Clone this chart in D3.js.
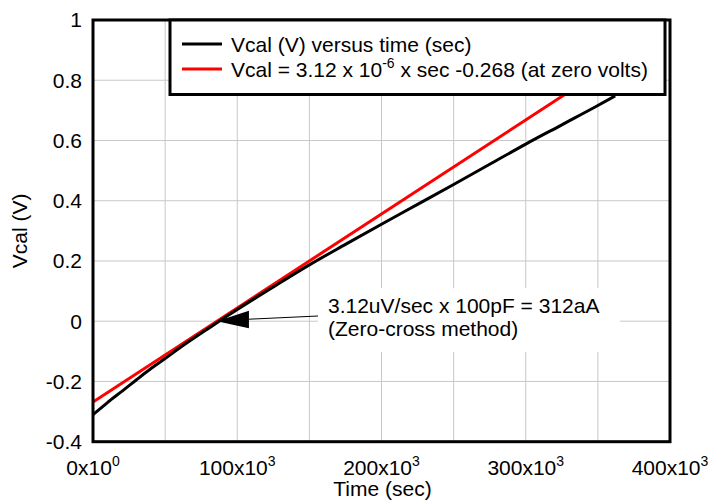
<!DOCTYPE html>
<html>
<head>
<meta charset="utf-8">
<script src="https://cdn.jsdelivr.net/npm/d3@7/dist/d3.min.js"></script>
<style>
  html, body { margin: 0; padding: 0; background: #fff; }
  svg { display: block; font-family: "Liberation Sans", Arial, sans-serif; }
</style>
</head>
<body>
<svg id="chart" width="710" height="502"></svg>
<script>
// ---- data ----
const timeSec = [0, 5000, 10000, 20000, 30000, 40000, 50000, 60000, 70000, 80000, 90000, 100000, 125000, 150000, 175000, 200000, 225000, 250000, 275000, 300000, 325000, 350000, 362000];
const vcal    = [-0.31, -0.29, -0.27, -0.233, -0.195, -0.158, -0.124, -0.089, -0.056, -0.024, 0.008, 0.039, 0.114, 0.187, 0.255, 0.322, 0.388, 0.454, 0.521, 0.588, 0.652, 0.716, 0.748];
const fitSlope = 3.12e-6;
const fitOffset = -0.268;
const fitTimes = [0, 360000];
const xTickValues = [0, 100000, 200000, 300000, 400000];
const xTickMantissa = ["0x10", "100x10", "200x10", "300x10", "400x10"];
const xTickExponent = ["0", "3", "3", "3", "3"];
const xGridValues = [50000, 100000, 150000, 200000, 250000, 300000, 350000];
const yTickValues = [-0.4, -0.2, 0, 0.2, 0.4, 0.6, 0.8, 1];
const yTickLabels = ["-0.4", "-0.2", "0", "0.2", "0.4", "0.6", "0.8", "1"];
const yGridValues = [-0.2, 0, 0.2, 0.4, 0.6, 0.8];
const legendLabels = ["Vcal (V) versus time (sec)", "Vcal = 3.12 x 10", "-6", " x sec -0.268 (at zero volts)"];
const annotationLines = ["3.12uV/sec x 100pF = 312aA", "(Zero-cross method)"];

// ---- layout ----
const L = 93, R = 670, T = 20, B = 441.7;
const FS = 21;
const svg = d3.select("#chart");
const x = d3.scaleLinear().domain([0, 400000]).range([L, R]);
const y = d3.scaleLinear().domain([-0.4, 1]).range([B, T]);

svg.append("defs").append("clipPath").attr("id", "plotclip")
  .append("rect").attr("x", L).attr("y", T).attr("width", R - L).attr("height", B - T);

// grid
const grid = svg.append("g");
grid.selectAll("line.v").data(xGridValues).join("line")
  .attr("x1", d => x(d)).attr("x2", d => x(d)).attr("y1", T).attr("y2", B)
  .attr("stroke", "#c8c8c8").attr("stroke-width", 1);
grid.selectAll("line.h").data(yGridValues).join("line")
  .attr("x1", L).attr("x2", R).attr("y1", d => y(d)).attr("y2", d => y(d))
  .attr("stroke", "#c8c8c8").attr("stroke-width", 1);

// annotation background box (hides grid)
const tipX = x(-fitOffset / fitSlope), tipY = y(0);
svg.append("rect").attr("x", 318).attr("y", 288).attr("width", 302).attr("height", 64).attr("fill", "#fff");

// curves
const curves = svg.append("g").attr("clip-path", "url(#plotclip)");
const line = d3.line().x(d => x(d[0])).y(d => y(d[1]));
curves.append("path").datum(fitTimes.map(t => [t, fitSlope * t + fitOffset]))
  .attr("d", line).attr("fill", "none").attr("stroke", "#ff0000").attr("stroke-width", 3);
curves.append("path").datum(timeSec.map((t, i) => [t, vcal[i]]))
  .attr("d", d3.line().curve(d3.curveMonotoneX).x(d => x(d[0])).y(d => y(d[1])))
  .attr("fill", "none").attr("stroke", "#000").attr("stroke-width", 3);

// arrow
svg.append("line").attr("x1", 318).attr("y1", 316).attr("x2", tipX + 32).attr("y2", tipY - 2)
  .attr("stroke", "#000").attr("stroke-width", 1);
svg.append("path")
  .attr("d", `M${tipX},${tipY} L${tipX + 32},${tipY - 10.5} L${tipX + 32},${tipY + 7} Z`)
  .attr("fill", "#000");

// annotation text
const ann = svg.append("text").attr("font-size", FS).attr("fill", "#000");
ann.append("tspan").attr("x", 328).attr("y", 313).text(annotationLines[0]);
ann.append("tspan").attr("x", 328).attr("y", 336).text(annotationLines[1]);

// plot frame
svg.append("rect").attr("x", L).attr("y", T).attr("width", R - L).attr("height", B - T)
  .attr("fill", "none").attr("stroke", "#000").attr("stroke-width", 3);

// legend
const lg = svg.append("g");
lg.append("rect").attr("x", 170).attr("y", T).attr("width", 495).attr("height", 74.5)
  .attr("fill", "#fff").attr("stroke", "#000").attr("stroke-width", 3);
lg.append("line").attr("x1", 182).attr("x2", 222).attr("y1", 44).attr("y2", 44)
  .attr("stroke", "#000").attr("stroke-width", 3);
lg.append("line").attr("x1", 182).attr("x2", 222).attr("y1", 69).attr("y2", 69)
  .attr("stroke", "#ff0000").attr("stroke-width", 3);
lg.append("text").attr("x", 231).attr("y", 51.5).attr("font-size", FS).text(legendLabels[0]);
const l2 = lg.append("text").attr("x", 231).attr("y", 76.5).attr("font-size", FS);
l2.append("tspan").text(legendLabels[1]);
l2.append("tspan").attr("font-size", 14).attr("dy", -9).text(legendLabels[2]);
l2.append("tspan").attr("dy", 9).text(legendLabels[3]);

// x tick labels
const xt = svg.append("g");
xTickValues.forEach((v, i) => {
  const t = xt.append("text").attr("x", x(v)).attr("y", 475).attr("font-size", FS).attr("text-anchor", "middle");
  t.append("tspan").text(xTickMantissa[i]);
  t.append("tspan").attr("font-size", 14).attr("dy", -9).text(xTickExponent[i]);
});

// y tick labels
svg.append("g").selectAll("text").data(yTickValues).join("text")
  .attr("x", 82).attr("y", d => y(d)).attr("dy", "0.35em")
  .attr("font-size", FS).attr("text-anchor", "end")
  .text((d, i) => yTickLabels[i]);

// axis titles
svg.append("text").attr("x", (L + R) / 2 + 1).attr("y", 496).attr("font-size", FS)
  .attr("text-anchor", "middle").text("Time (sec)");
svg.append("text").attr("transform", `translate(27,${(T + B) / 2}) rotate(-90)`)
  .attr("font-size", FS).attr("text-anchor", "middle").text("Vcal (V)");
</script>
</body>
</html>
